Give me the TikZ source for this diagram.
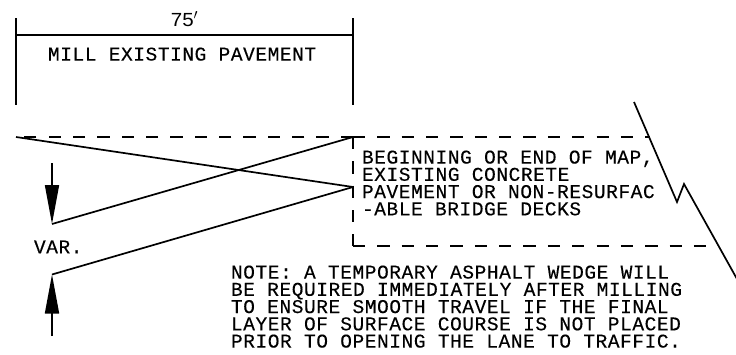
\documentclass[tikz,border=0pt]{standalone}
\usepackage{fontspec}
\setmainfont{Liberation Sans}
\newfontfamily\cadfont[LetterSpace=2.9,FakeBold=0.25]{Liberation Mono}
\newfontfamily\dimfont[FakeStretch=1.08]{Liberation Sans}
\usetikzlibrary{arrows.meta}
\tikzset{
  line/.style={line width=1.7pt,black},
  dashline/.style={line width=1.7pt,black,dash pattern=on 12.3pt off 12.05pt},
  tipline/.style={line width=1.7pt,black,-{Triangle[length=39pt,width=14pt]}},
  cadtext/.style={inner sep=0pt,outer sep=0pt,align=left,anchor=north west,
    font=\fontsize{19.5pt}{17.25pt}\selectfont\cadfont},
}
\begin{document}
\begin{tikzpicture}[x=1pt,y=-1pt]
\useasboundingbox (0,0) rectangle (736,354);
% named points
\coordinate (dl) at (16,35);
\coordinate (dr) at (353,35);
\coordinate (dlt) at (16,18);
\coordinate (dlb) at (16,105);
\coordinate (drt) at (353,18);
\coordinate (drb) at (353,105);
\coordinate (pl) at (16,137);
\coordinate (pr) at (353,137);
\coordinate (pe) at (650,137);
\coordinate (mr) at (353,187);
\coordinate (bc) at (353,246);
\coordinate (be) at (707,246);
\coordinate (wa) at (52,224);
\coordinate (wb) at (52,274.5);
\coordinate (ta) at (52,163);
\coordinate (tb) at (52,336);
\coordinate (z0) at (634,102);
\coordinate (z1) at (677,202);
\coordinate (z2) at (684,184);
\coordinate (z3) at (737,279);
% dimension
\draw[line] (dlt) -- (dlb);
\draw[line] (drt) -- (drb);
\draw[line] (dl) -- (dr);
% pavement
\draw[dashline] (pr) -- (pl);
\draw[dashline] (pr) -- (pe);
\draw[dashline] (pr) -- (bc);
\draw[dashline] (bc) -- (be);
\draw[line] (pl) -- (mr);
\draw[line] (pr) -- (wa);
\draw[line] (mr) -- (wb);
\draw[tipline] (ta) -- (wa);
\draw[tipline] (tb) -- (wb);
\draw[line] (z0) -- (z1) -- (z2) -- (z3);
% text
\node[inner sep=0pt,font=\fontsize{19pt}{20pt}\selectfont\dimfont] (dimlabel) at (184.5,19) {75$'$};
\node[cadtext] (mill) at (48,47.5) {MILL EXISTING PAVEMENT};
\node[cadtext] (var) at (34,240.5) {VAR.};
\node[cadtext] (begin) at (362,150.5) {BEGINNING OR END OF MAP,\\EXISTING CONCRETE\\PAVEMENT OR NON-RESURFAC\\-ABLE BRIDGE DECKS};
\node[cadtext] (note) at (231,265.5) {NOTE: A TEMPORARY ASPHALT WEDGE WILL\\BE REQUIRED IMMEDIATELY AFTER MILLING\\TO ENSURE SMOOTH TRAVEL IF THE FINAL\\LAYER OF SURFACE COURSE IS NOT PLACED\\PRIOR TO OPENING THE LANE TO TRAFFIC.};
\end{tikzpicture}
\end{document}
